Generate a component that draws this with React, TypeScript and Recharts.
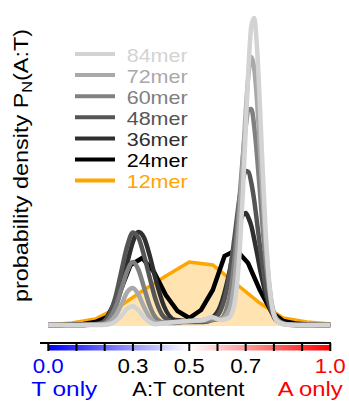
import {
  Area,
  ComposedChart,
  Legend,
  Line,
  ReferenceArea,
  XAxis,
  YAxis,
} from "recharts";

const FONT = "'Liberation Sans', Arial, sans-serif";

// A:T content grid used for the longer oligos
const atGrid = [
  0, 0.05, 0.1, 0.15, 0.19, 0.22, 0.24, 0.26, 0.28, 0.3, 0.32, 0.34, 0.36,
  0.38, 0.41, 0.45, 0.5, 0.55, 0.58, 0.61, 0.64, 0.66, 0.68, 0.69, 0.7, 0.71,
  0.72, 0.73, 0.74, 0.75, 0.76, 0.77, 0.79, 0.81, 0.84, 0.88, 0.94, 1,
];
const at24 = [
  0, 0.0417, 0.0833, 0.125, 0.1667, 0.2083, 0.25, 0.2917, 0.3333, 0.375,
  0.4167, 0.4583, 0.5, 0.5417, 0.5833, 0.625, 0.6667, 0.7083, 0.75, 0.7917,
  0.8333, 0.875, 0.9167, 0.9583, 1,
];
const at12 = [
  0, 0.0833, 0.1667, 0.25, 0.3333, 0.4167, 0.5, 0.5833, 0.6667, 0.75, 0.8333,
  0.9167, 1,
];

// densities (arbitrary units)
const p84 = [
  1, 1, 1, 1, 1, 2, 5, 10.5, 17.5, 19.8, 15.5, 8.5, 3.7, 1.8, 3, 4, 5, 6, 9, 6,
  8, 22, 81, 133, 197, 259, 300, 308, 279, 223, 158, 99, 26, 5, 1.5, 1, 1, 1,
];
const p72 = [
  1, 1, 1, 1.2, 1.5, 4.5, 11, 22, 34, 38, 31, 18.5, 8.6, 3.3, 3, 4, 5, 6, 8,
  6.5, 15, 44, 118, 166, 214, 252, 269, 258, 226, 179, 129, 85, 27, 6.6, 1.5,
  1, 1, 1,
];
const p60 = [
  1, 1, 1, 1.3, 2, 8.5, 20, 37.5, 55, 64, 56, 38, 20, 8.7, 3.5, 3, 5, 5, 6, 7,
  25, 66, 134, 170, 199, 216, 217, 200, 171, 136, 99, 67, 24, 7, 2, 1, 1, 1,
];
const p48 = [
  1, 1, 1, 1.5, 3.5, 14, 31, 56, 80, 93.5, 88, 70, 48, 27, 9, 4, 4, 4, 6,
  15, 47, 88, 132, 147, 155, 154, 143, 126, 104, 81, 60, 41, 16, 5, 2, 1, 1, 1,
];
const p36 = [
  1, 1, 1, 1.5, 2.6, 9.3, 20.5, 39, 63, 84, 94, 88, 70, 47.5, 20, 6, 5, 5, 8,
  20, 51, 80, 104, 111, 113, 108, 100, 87, 73, 58, 45, 33, 15, 6.7, 2, 1, 1, 1,
];
const p24 = [
  1, 1, 1.5, 2, 4, 9, 31, 61, 68, 54, 31, 15, 8, 16, 36, 70, 76, 63, 36, 14, 5,
  2.5, 1.5, 1, 1,
];
const p12 = [1, 3, 7, 19, 35, 50, 64, 61, 42, 23, 8, 4, 2];

const seriesNames = ["84mer", "72mer", "60mer", "48mer", "36mer", "24mer", "12mer"];
const seriesColors = ["#d3d3d3", "#a9a9a9", "#808080", "#555555", "#2f2f2f", "#000000", "#ffa500"];

const colorbarTicks = [0, 0.1, 0.2, 0.3, 0.4, 0.5, 0.6, 0.7, 0.8, 0.9, 1];
const labeledTicks = [0, 0.3, 0.5, 0.7, 1];
const tickLabels = ["0.0", "0.3", "0.5", "0.7", "1.0"];
const tickColors = ["#0000ff", "#000000", "#000000", "#000000", "#ff0000"];
const endTicks = [0, 0.5, 1];
const endLabels = ["T only", "A:T content", "A only"];
const endColors = ["#0000ff", "#000000", "#ff0000"];

const toRows = (xs: number[], ys: number[]) => xs.map((v, i) => ({ v, p: ys[i] }));

const grayData = [p84, p72, p60, p48, p36].map((ys) => toRows(atGrid, ys));

function XTick({ x, y, payload }: any) {
  const i = labeledTicks.indexOf(payload.value);
  const j = endTicks.indexOf(payload.value);
  const shift = [16, -1, -20][j];
  const widths = [66, 112, 65];
  return (
    <g fontFamily={FONT}>
      {i >= 0 && (
        <text
          x={x - 15.5}
          y={y + 20}
          fontSize={21}
          fill={tickColors[i]}
          textLength={31}
          lengthAdjust="spacingAndGlyphs"
        >
          {tickLabels[i]}
        </text>
      )}
      {j >= 0 && (
        <text
          x={x + shift - widths[j] / 2}
          y={y + 43}
          fontSize={21}
          fill={endColors[j]}
          textLength={widths[j]}
          lengthAdjust="spacingAndGlyphs"
        >
          {endLabels[j]}
        </text>
      )}
    </g>
  );
}

function YTitle() {
  const x = 28;
  const y = 165.5;
  return (
    <svg
      width={45}
      height={402}
      style={{ position: "absolute", left: 0, top: 0, pointerEvents: "none" }}
    >
      <text
        x={x}
        y={y}
        transform={`rotate(-90 ${x} ${y})`}
        textAnchor="middle"
        fontFamily={FONT}
        fontSize={20}
        fill="#000"
        textLength={273}
        lengthAdjust="spacingAndGlyphs"
      >
        probability density P
        <tspan fontSize={14} dy={4}>
          N
        </tspan>
        <tspan dy={-4}>(A:T)</tspan>
      </text>
    </svg>
  );
}

function LegendBox() {
  return (
    <svg width={140} height={160}>
      {seriesNames.map((name, i) => {
        const y = 14 + i * 21.1;
        return (
          <g key={name}>
            <line x1={5} x2={45} y1={y} y2={y} stroke={seriesColors[i]} strokeWidth={4} />
            <text
              x={56.7}
              y={y + 7.5}
              fill={seriesColors[i]}
              fontSize={18.6}
              fontFamily={FONT}
              textLength={61}
              lengthAdjust="spacingAndGlyphs"
            >
              {name}
            </text>
          </g>
        );
      })}
    </svg>
  );
}

export default function App() {
  return (
    <div style={{ position: "absolute", left: 0, top: 0, width: 349, height: 402 }}>
      <ComposedChart
        width={349}
        height={402}
        margin={{ top: 15, right: 18, bottom: 0, left: 40 }}
      >
        <defs>
          <linearGradient id="atGrad" x1="0" x2="1" y1="0" y2="0">
            <stop offset="0%" stopColor="#0000ff" />
            <stop offset="50%" stopColor="#ffffff" />
            <stop offset="100%" stopColor="#ff0000" />
          </linearGradient>
        </defs>
        <ReferenceArea
          x1={0}
          x2={1}
          y1={-19}
          y2={-24.5}
          ifOverflow="visible"
          fill="url(#atGrad)"
          fillOpacity={1}
          stroke="none"
        />
        <XAxis
          type="number"
          dataKey="v"
          domain={[-0.0294, 1.0025]}
          allowDataOverflow
          ticks={colorbarTicks}
          interval={0}
          height={59}
          tickSize={8}
          axisLine={{ stroke: "#000", strokeWidth: 2 }}
          tickLine={{ stroke: "#000", strokeWidth: 2 }}
          tick={<XTick />}
        />
        <YAxis
          type="number"
          domain={[-17, 311]}
          allowDataOverflow
          width={0}
          tick={false}
          tickLine={false}
          axisLine={{ stroke: "#000", strokeWidth: 2.5 }}
        />
        <Legend
          layout="horizontal"
          verticalAlign="middle"
          wrapperStyle={{ left: 70, top: 40, width: 140, height: 160 }}
          content={<LegendBox />}
        />
        <Area
          data={toRows(at12, p12)}
          dataKey="p"
          type="linear"
          baseValue={0}
          stroke="#ffa500"
          strokeWidth={3.5}
          fill="#ffa500"
          fillOpacity={0.3}
          dot={false}
          activeDot={false}
          isAnimationActive={false}
        />
        <Line
          data={toRows(at24, p24)}
          dataKey="p"
          type="linear"
          stroke={seriesColors[5]}
          strokeWidth={4.5}
          dot={false}
          activeDot={false}
          isAnimationActive={false}
        />
        {[4, 3, 2, 1, 0].map((k) => (
          <Line
            key={seriesNames[k]}
            data={grayData[k]}
            dataKey="p"
            type="monotone"
            stroke={seriesColors[k]}
            strokeWidth={4.5}
            dot={false}
            activeDot={false}
            isAnimationActive={false}
          />
        ))}
      </ComposedChart>
      <YTitle />
    </div>
  );
}
